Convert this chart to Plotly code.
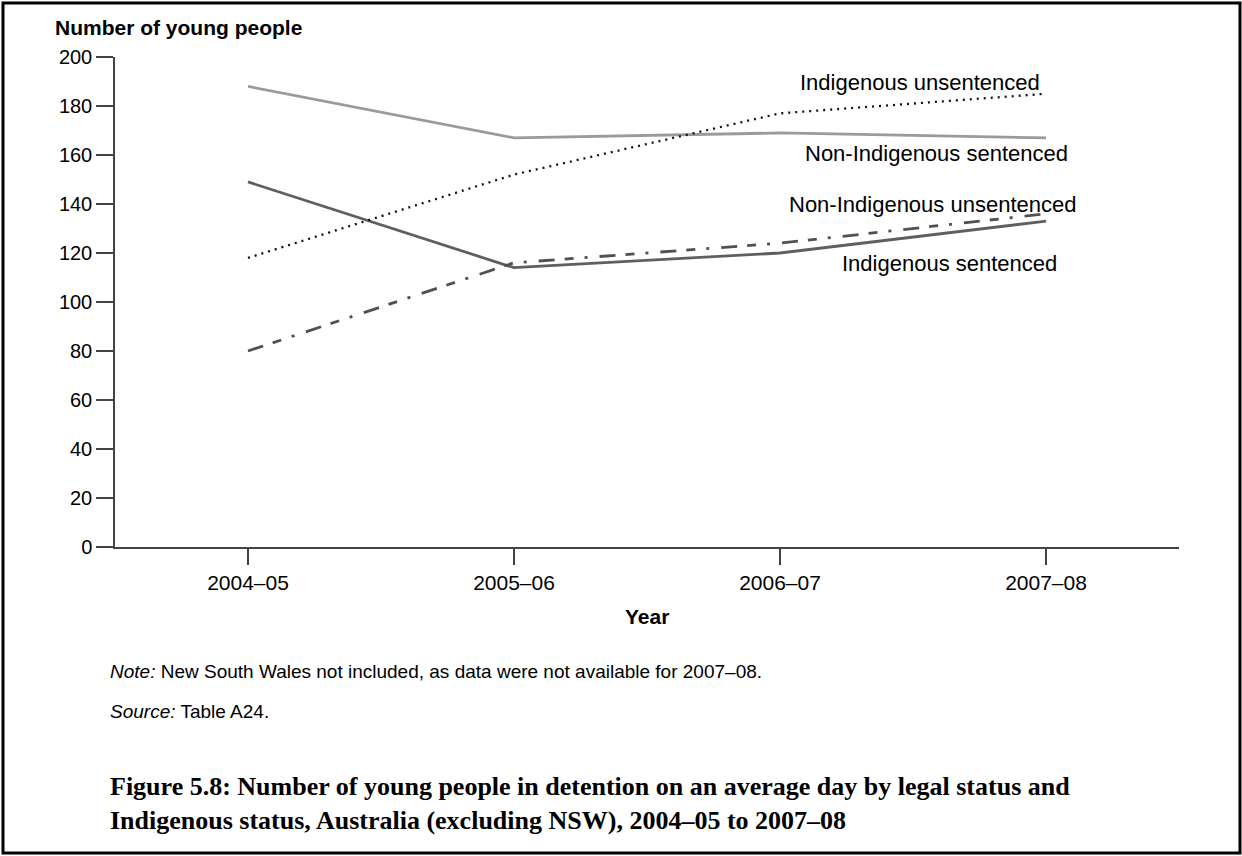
import plotly.graph_objects as go

years = ["2004–05", "2005–06", "2006–07", "2007–08"]
non_indig_sentenced = [188, 167, 169, 167]
indig_sentenced = [149, 114, 120, 133]
indig_unsentenced = [118, 152, 177, 185]
non_indig_unsentenced = [80, 116, 124, 136]

series_names = ["Non-Indigenous sentenced", "Indigenous sentenced",
                "Indigenous unsentenced", "Non-Indigenous unsentenced"]

FONT = "Liberation Sans, Arial, sans-serif"
SERIF = "Liberation Serif, Times New Roman, serif"

W, H = 1242, 856
L = 115
T = 57
R = W - 1179
B = H - 547
pw, ph = W - L - R, H - T - B

def px(x):
    return (x - L) / pw

def py(y):
    return (H - B - y) / ph

fig = go.Figure()
fig.add_trace(go.Scatter(x=years, y=non_indig_sentenced, mode="lines", name=series_names[0],
                         line=dict(color="#9a9a9a", width=2.8)))
fig.add_trace(go.Scatter(x=years, y=indig_sentenced, mode="lines", name=series_names[1],
                         line=dict(color="#5f5f5f", width=2.8)))
fig.add_trace(go.Scatter(x=years, y=indig_unsentenced, mode="lines", name=series_names[2],
                         line=dict(color="#111111", width=2.3, dash="2px,5px")))
fig.add_trace(go.Scatter(x=years, y=non_indig_unsentenced, mode="lines", name=series_names[3],
                         line=dict(color="#505050", width=2.8,
                                   dash="16px,10px,9px,11px,3px,12px")))

def ann(text, x, y, size, xanchor="center", family=FONT, **kw):
    return dict(text=text, x=px(x), y=py(y), xref="paper", yref="paper",
                xanchor=xanchor, yanchor="middle", showarrow=False,
                font=dict(family=family, size=size, color="#000"), **kw)

annotations = [
    ann("<b>Number of young people</b>", 53, 28, 21, xanchor="left"),
    ann("<b>Year</b>", 647, 616, 21),
    ann(series_names[2], 920, 83, 22),
    ann(series_names[0], 936, 153, 22),
    ann(series_names[3], 932, 204, 22),
    ann(series_names[1], 949, 263, 22),
    ann("<i>Note:</i> New South Wales not included, as data were not available for 2007–08.",
        108, 671, 19, xanchor="left"),
    ann("<i>Source:</i> Table A24.", 108, 711, 19, xanchor="left"),
    ann("<b>Figure 5.8: Number of young people in detention on an average day by legal status and<br>"
        "Indigenous status, Australia (excluding NSW), 2004–05 to 2007–08</b>",
        108, 804, 26, xanchor="left", family=SERIF, align="left"),
]

fig.update_layout(
    width=W, height=H,
    margin=dict(l=L, r=R, t=T, b=B),
    paper_bgcolor="white", plot_bgcolor="white",
    showlegend=False,
    font=dict(family=FONT, size=20, color="#000"),
    annotations=annotations,
    shapes=[dict(type="rect", xref="paper", yref="paper",
                 x0=px(3), x1=px(1240), y0=py(853), y1=py(3),
                 line=dict(color="#000", width=3), fillcolor="rgba(0,0,0,0)", layer="below")],
)

fig.update_xaxes(type="category", range=[-0.5, 3.5], showgrid=False, zeroline=False,
                 showline=True, linecolor="#444", linewidth=1.5,
                 ticks="outside", ticklen=16, tickwidth=1.5, tickcolor="#444",
                 tickfont=dict(family=FONT, size=21, color="#000"))
fig.update_yaxes(range=[0, 200], tickvals=list(range(0, 201, 20)), showgrid=False, zeroline=False,
                 showline=True, linecolor="#444", linewidth=1.5,
                 ticks="outside", ticklen=17, tickwidth=1.5, tickcolor="#444",
                 tickfont=dict(family=FONT, size=20, color="#000"))

fig.write_html("out.html", config={"displayModeBar": False},
               post_script="document.body.style.margin='0';document.body.style.overflow='hidden';")
